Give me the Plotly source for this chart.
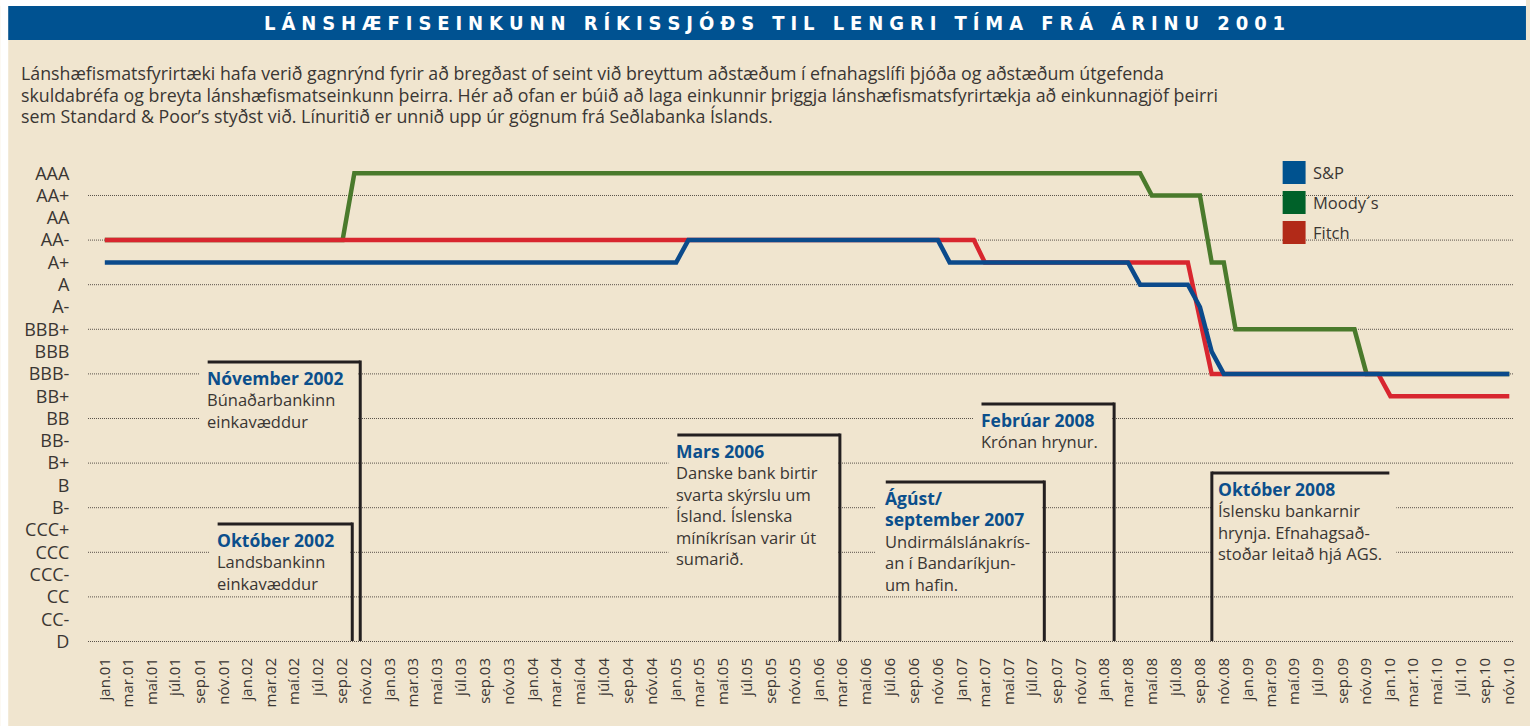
import plotly.graph_objects as go

# ---------------- data ----------------
RATING_SCALE = ["D", "CC-", "CC", "CCC-", "CCC", "CCC+", "B-", "B", "B+", "BB-", "BB", "BB+",
                "BBB-", "BBB", "BBB+", "A-", "A", "A+", "AA-", "AA", "AA+", "AAA"]
GRID_RATINGS = ["AA+", "AA-", "A", "BBB+", "BBB-", "BB", "B+", "B-", "CCC", "CC", "D"]

SP_DATES = ["2001-01", "2005-01", "2005-02", "2006-11", "2006-12", "2008-03", "2008-04",
            "2008-08", "2008-09", "2008-10", "2008-11", "2010-11"]
SP_RATINGS = ["A+", "A+", "AA-", "AA-", "A+", "A+", "A", "A", "A-", "BBB", "BBB-", "BBB-"]

MOODYS_DATES = ["2001-01", "2002-09", "2002-10", "2008-04", "2008-05", "2008-09", "2008-10",
                "2008-11", "2008-12", "2009-10", "2009-11", "2010-11"]
MOODYS_RATINGS = ["AA-", "AA-", "AAA", "AAA", "AA+", "AA+", "A+", "A+", "BBB+", "BBB+", "BBB-", "BBB-"]

FITCH_DATES = ["2001-01", "2007-02", "2007-03", "2008-08", "2008-10", "2009-12", "2010-01", "2010-11"]
FITCH_RATINGS = ["AA-", "AA-", "A+", "A+", "BBB-", "BBB-", "BB+", "BB+"]

TICK_MONTHS = ["jan", "mar", "maí", "júl", "sep", "nóv"]
TICK_MONTH_NUMS = ["01", "03", "05", "07", "09", "11"]
TICK_YEARS = ["2001", "2002", "2003", "2004", "2005", "2006", "2007", "2008", "2009", "2010"]

SERIES_NAMES = ["S&P", "Moody´s", "Fitch"]
LINE_COLORS = {"S&P": "#0b4a8b", "Moody´s": "#4a7a2c", "Fitch": "#d8262f"}
LEGEND_COLORS = {"S&P": "#00528f", "Moody´s": "#006129", "Fitch": "#b22a18"}

TITLE = "LÁNSHÆFISEINKUNN RÍKISSJÓÐS TIL LENGRI TÍMA FRÁ ÁRINU 2001"
INTRO = ["Lánshæfismatsfyrirtæki hafa verið gagnrýnd fyrir að bregðast of seint við breyttum aðstæðum í efnahagslífi þjóða og aðstæðum útgefenda",
         "skuldabréfa og breyta lánshæfismatseinkunn þeirra. Hér að ofan er búið að laga einkunnir þriggja lánshæfismatsfyrirtækja að einkunnagjöf þeirri",
         "sem Standard &amp; Poor’s styðst við. Línuritið er unnið upp úr gögnum frá Seðlabanka Íslands."]

# ---------------- layout helpers ----------------
W, H = 1530, 726
ML, MR, MT, MB = 88, 12, 150, 81
PW, PH = W - ML - MR, H - MT - MB
BG = "#f0e5cf"
TXT = "#3a3633"
HEAD = "#0b4f8c"
FONT = "Open Sans, Noto Sans, sans-serif"


def px(x):
    return (x - ML) / PW


def py(y):
    return (H - MB - y) / PH


def to_num(ratings):
    return [RATING_SCALE.index(r) for r in ratings]


fig = go.Figure()
for name, dates, ratings in [("Moody´s", MOODYS_DATES, MOODYS_RATINGS),
                             ("Fitch", FITCH_DATES, FITCH_RATINGS),
                             ("S&P", SP_DATES, SP_RATINGS)]:
    fig.add_trace(go.Scatter(x=dates, y=to_num(ratings), mode="lines", name=name,
                             line=dict(color=LINE_COLORS[name], width=4.5), showlegend=False,
                             hoverinfo="skip"))

tickvals = [f"{y}-{m}-01" for y in TICK_YEARS for m in TICK_MONTH_NUMS]
ticktext = [f"{m}.{y[2:]}" for y in TICK_YEARS for m in TICK_MONTHS]

shapes = []
# page frame
shapes.append(dict(type="rect", xref="paper", yref="paper", x0=px(0), x1=px(8), y0=py(H), y1=py(0),
                   fillcolor="white", line_width=0, layer="below"))
shapes.append(dict(type="rect", xref="paper", yref="paper", x0=px(0), x1=px(W), y0=py(6), y1=py(0),
                   fillcolor="white", line_width=0, layer="below"))
shapes.append(dict(type="rect", xref="paper", yref="paper", x0=px(8), x1=px(W), y0=py(40), y1=py(6),
                   fillcolor="#005291", line_width=0, layer="below"))
# dotted grid
for r in GRID_RATINGS:
    v = RATING_SCALE.index(r)
    shapes.append(dict(type="line", xref="paper", yref="y", x0=0, x1=1, y0=v, y1=v,
                       line=dict(color="#5a524a", width=1, dash="1px,1px"), layer="below"))

# event boxes: (cover rect l, r, t, b), bracket (x_left, x_right, top, vertical x), text x, lines
EVENTS = [
    ((200, 359, 364, 440), (208, 361, 362, 361), 208,
     ["Nóvember 2002"], ["Búnaðarbankinn", "einkavæddur"]),
    ((210, 351, 526, 592), (218, 353, 524, 353), 218,
     ["Október 2002"], ["Landsbankinn", "einkavæddur"]),
    ((670, 840, 437, 570), (679, 842, 435, 842), 679,
     ["Mars 2006"], ["Danske bank birtir", "svarta skýrslu um", "Ísland. Íslenska", "míníkrísan varir út", "sumarið."]),
    ((878, 1045, 484, 592), (888, 1047, 482, 1047), 888,
     ["Ágúst/", "september 2007"], ["Undirmálslánakrís-", "an í Bandaríkjun-", "um hafin."]),
    ((976, 1115, 406, 450), (984, 1117, 404, 1117), 984,
     ["Febrúar 2008"], ["Krónan hrynur."]),
    ((1217, 1400, 475, 566), (1215, 1393, 473, 1215), 1222,
     ["Október 2008"], ["Íslensku bankarnir", "hrynja. Efnahagsað-", "stoðar leitað hjá AGS."]),
]

annotations = []
for (cl, cr, ct, cb), (bl, br, bt, bv), tx, heads, body in EVENTS:
    shapes.append(dict(type="rect", xref="paper", yref="paper", x0=px(cl), x1=px(cr), y0=py(cb), y1=py(ct),
                       fillcolor=BG, line_width=0, layer="above"))
    shapes.append(dict(type="line", xref="paper", yref="paper", x0=px(bl), x1=px(br), y0=py(bt), y1=py(bt),
                       line=dict(color="#231f20", width=3), layer="above"))
    shapes.append(dict(type="line", xref="paper", yref="paper", x0=px(bv), x1=px(bv), y0=py(bt - 1.5), y1=py(641),
                       line=dict(color="#231f20", width=3), layer="above"))
    txt = "<br>".join([f"<span style='color:{HEAD};font-size:17.5px'><b>{h}</b></span>" for h in heads] + body)
    annotations.append(dict(xref="paper", yref="paper", x=px(tx - 3), y=py(bt + 2), text=txt,
                            xanchor="left", yanchor="top", align="left", showarrow=False,
                            font=dict(family=FONT, size=16.5, color=TXT)))

# legend
for i, name in enumerate(SERIES_NAMES):
    top = 161 + i * 30
    shapes.append(dict(type="rect", xref="paper", yref="paper", x0=px(1286), x1=px(1309),
                       y0=py(top + 23), y1=py(top), fillcolor=LEGEND_COLORS[name], line_width=0, layer="above"))
    annotations.append(dict(xref="paper", yref="paper", x=px(1314), y=py(top + 11.5),
                            text=name.replace("&", "&amp;"), xanchor="left", yanchor="middle", showarrow=False,
                            font=dict(family=FONT, size=16.5, color=TXT)))

# title
spaced = "\u2004".join(TITLE)
annotations.append(dict(xref="paper", yref="paper", x=px(776), y=py(23), text=f"<b>{spaced}</b>",
                        xanchor="center", yanchor="middle", showarrow=False,
                        font=dict(family="Liberation Sans Narrow, DejaVu Sans Condensed, Roboto, sans-serif",
                                  size=20, color="white")))
# intro paragraph, one annotation per line
for i, line in enumerate(INTRO):
    annotations.append(dict(xref="paper", yref="paper", x=px(19), y=py(73 + i * 21.5), text=line,
                            xanchor="left", yanchor="middle", align="left", showarrow=False,
                            font=dict(family=FONT, size=17.8, color=TXT)))

fig.update_layout(
    width=W, height=H, autosize=False,
    margin=dict(l=ML, r=MR, t=MT, b=MB, pad=0),
    paper_bgcolor=BG, plot_bgcolor="rgba(0,0,0,0)",
    showlegend=False,
    shapes=shapes, annotations=annotations,
    xaxis=dict(type="date", range=["2000-11-19", "2010-11-13"], tickvals=tickvals, ticktext=ticktext,
               tickangle=-90, tickfont=dict(family=FONT, size=15, color=TXT), showgrid=False,
               zeroline=False, showline=False, ticks="outside", ticklen=6, tickcolor="rgba(0,0,0,0)"),
    yaxis=dict(range=[-0.157, 22.04], tickvals=list(range(len(RATING_SCALE))), ticktext=RATING_SCALE,
               tickfont=dict(family=FONT, size=18, color=TXT), showgrid=False, zeroline=False,
               showline=False, ticks="outside", ticklen=14, tickcolor="rgba(0,0,0,0)"),
)

fig.write_html("out.html", config={"displayModeBar": False, "staticPlot": True},
               post_script="document.body.style.margin='0';document.body.style.overflow='hidden';")
